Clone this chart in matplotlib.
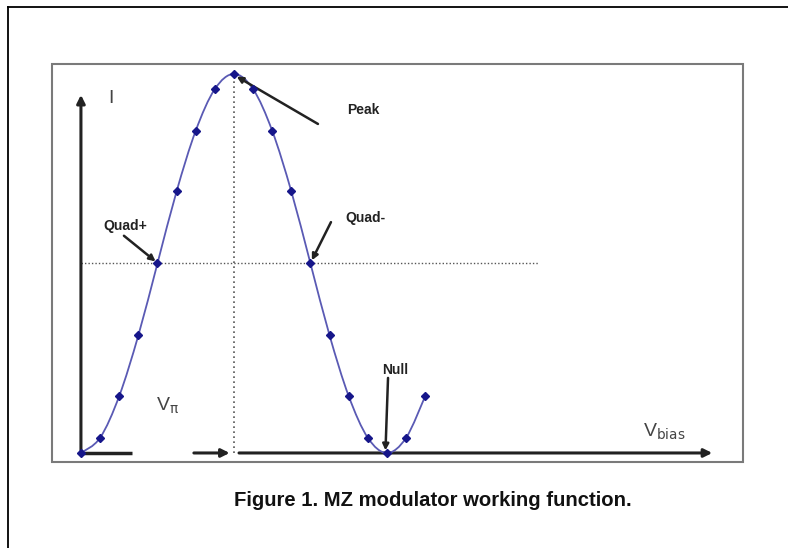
import matplotlib.pyplot as plt
from matplotlib.patches import Rectangle, PathPatch
from matplotlib.lines import Line2D
from matplotlib.path import Path

plt.rcParams['font.family'] = ['Liberation Sans', 'DejaVu Sans']

# bias voltage in units of V_pi, and normalised optical intensity
v_bias = [0, 0.125, 0.25, 0.375, 0.5, 0.625, 0.75, 0.875, 1.0,
          1.125, 1.25, 1.375, 1.5, 1.625, 1.75, 1.875, 2.0, 2.125, 2.25]
intensity = [0, 0.04, 0.15, 0.31, 0.5, 0.69, 0.85, 0.96, 1.0,
             0.96, 0.85, 0.69, 0.5, 0.31, 0.15, 0.04, 0, 0.04, 0.15]

peak_v, quad_level, null_v = 1.0, 0.5, 2.0
quad_plus_v, quad_minus_v = 0.5, 1.5

fig = plt.figure(figsize=(7.88, 5.48), dpi=100)
ax = fig.add_axes([0, 0, 1, 1])
ax.set_xlim(-0.529, 4.621)
ax.set_ylim(-0.2507, 1.195)
ax.axis('off')

# outer frame (left and top) and inner grey box
fig.add_artist(Line2D([8/788, 8/788], [0, 1 - 7/548], color='black', lw=1.3))
fig.add_artist(Line2D([8/788, 1], [1 - 7/548, 1 - 7/548], color='black', lw=1.3))
fig.add_artist(Rectangle((52/788, 1 - 462/548), (743 - 52)/788, (462 - 64)/548,
                         fill=False, edgecolor='#7a7a7a', lw=1.5))

# axes arrows
arrow = dict(arrowstyle='-|>', color='#222222', lw=2.2, mutation_scale=12)
ax.annotate('', xy=(0, 0.952), xytext=(0, 0), arrowprops=arrow)
ax.plot([0, 0.333], [0, 0], color='#222222', lw=2.5, solid_capstyle='butt')
ax.annotate('', xy=(0.99, 0), xytext=(0.72, 0), arrowprops=arrow)
ax.annotate('', xy=(4.144, 0), xytext=(1.015, 0), arrowprops=arrow)

# reference lines
ax.plot([peak_v, peak_v], [0, 1.0], color='#555555', lw=1.2, ls=(0, (1, 2)))
ax.plot([0, 2.99], [quad_level, quad_level], color='#555555', lw=1.0, ls=(0, (1, 1.5)))

# transfer function: smooth bezier through the measured points
pts = list(zip(v_bias, intensity))
verts = [pts[0]]
codes = [Path.MOVETO]
for i in range(len(pts) - 1):
    p0 = pts[i - 1] if i > 0 else pts[i]
    p1, p2 = pts[i], pts[i + 1]
    p3 = pts[i + 2] if i + 2 < len(pts) else pts[i + 1]
    c1 = (p1[0] + (p2[0] - p0[0]) / 6, p1[1] + (p2[1] - p0[1]) / 6)
    c2 = (p2[0] - (p3[0] - p1[0]) / 6, p2[1] - (p3[1] - p1[1]) / 6)
    verts += [c1, c2, p2]
    codes += [Path.CURVE4] * 3
ax.add_patch(PathPatch(Path(verts, codes), fill=False, edgecolor='#5a5ab4', lw=1.3, zorder=3))
ax.plot(v_bias, intensity, ls='none', marker='D', ms=4, color='#16168a', zorder=4)

# labels
ax.text(0.18, 0.935, 'I', fontsize=14, color='#444444', va='center')
ax.text(0.49, 0.125, r'V$_{\mathrm{π}}$', fontsize=14, color='#444444', va='center')
ax.text(3.675, 0.055, r'V$_{\mathrm{bias}}$', fontsize=14, color='#444444', va='center')

ann = dict(arrowstyle='-|>', color='#222222', lw=1.8, mutation_scale=9,
           shrinkA=0, shrinkB=1)
lbl = dict(fontsize=10, fontweight='bold', color='#222222', va='center')

ax.text(1.74, 0.905, 'Peak', **lbl)
ax.annotate('', xy=(peak_v + 0.01, 0.995), xytext=(1.549, 0.868), arrowprops=ann)

ax.text(0.145, 0.600, 'Quad+', **lbl)
ax.annotate('', xy=(quad_plus_v - 0.005, quad_level + 0.003), xytext=(0.281, 0.573), arrowprops=ann)

ax.text(1.725, 0.62, 'Quad-', **lbl)
ax.annotate('', xy=(quad_minus_v + 0.005, quad_level + 0.005), xytext=(1.634, 0.609), arrowprops=ann)

ax.text(1.97, 0.219, 'Null', **lbl)
ax.annotate('', xy=(null_v - 0.01, 0.003), xytext=(2.007, 0.198), arrowprops=ann)

fig.text(433/788, 1 - 501/548, 'Figure 1. MZ modulator working function.',
         fontsize=14.6, fontweight='bold', color='#111111', ha='center', va='center')

fig.savefig('out.png', dpi=100)
